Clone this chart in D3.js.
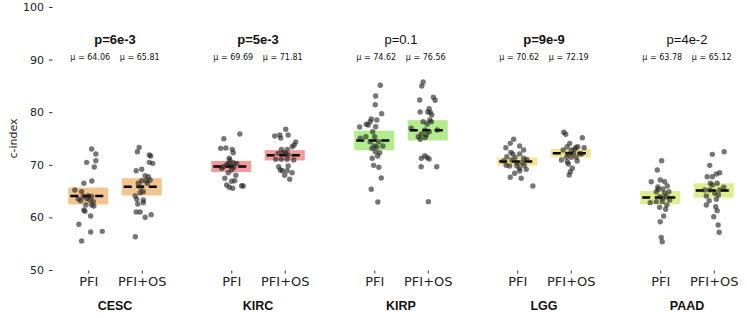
<!DOCTYPE html>
<html>
<head>
<meta charset="utf-8">
<script src="https://cdn.jsdelivr.net/npm/d3@7"></script>
<style>
  body { margin: 0; background: #fff; }
  svg { display: block; }
</style>
</head>
<body>
<svg id="chart"></svg>
<script>
// cancer types and the two label sets
const groups = ["CESC", "KIRC", "KIRP", "LGG", "PAAD"];
const methods = ["PFI", "PFI+OS"];
const pLabels = ["p=6e-3", "p=5e-3", "p=0.1", "p=9e-9", "p=4e-2"];
const pSignificant = [true, true, false, true, false];

// mean c-index and half height of the shaded box
const meansPFI = [64.06, 69.69, 74.62, 70.62, 63.78];
const meansPFIOS = [65.81, 71.81, 76.56, 72.19, 65.12];
const ciPFI = [1.6, 1.05, 1.87, 0.76, 1.24];
const ciPFIOS = [1.64, 0.98, 1.93, 0.79, 1.36];

const yTicks = [50, 60, 70, 80, 90, 100];

// single runs: [c-index, jitter (-1..1)]
const cescPFI = [[73.0,0.17],[72.05,0.38],[70.47,-0.08],[70.78,0.38],[69.58,0.3],[66.48,-0.22],[66.92,0.18],[65.21,-0.67],[63.5,-0.5],[63.17,-0.38],[63.97,-0.25],[64.13,0],[63.97,0.17],[63.3,0.08],[62.36,-0.12],[62.36,0.17],[62.17,0.28],[61.4,-0.22],[61.16,-0.17],[60.27,0.12],[58.69,-0.47],[57.22,0.12],[57.35,0.7],[55.51,-0.33],[63.6,-0.08],[63.0,0.25],[64.9,-0.33]];
const cescPFIOS = [[73.32,-0.13],[72.49,-0.22],[71.86,0.38],[71.67,0.45],[70.47,0.38],[70.28,0.55],[68.88,-0.28],[69.14,0],[67.93,0.17],[67.74,0.33],[66.98,0],[66.98,0.22],[66.48,-0.17],[67.1,0.42],[64.89,0.08],[64.7,-0.08],[64.07,-0.33],[63.44,-0.25],[63.3,0.08],[62.55,-0.2],[62.8,0.08],[61.03,-0.28],[61.03,-0.08],[60.02,0.17],[60.52,0.47],[56.33,-0.32],[66.48,0.28],[65.72,-0.05]];
const kircPFI = [[75.86,0.43],[74.96,-0.37],[73.13,-0.53],[73.19,-0.27],[72.94,0.05],[72.3,0.1],[71.24,-0.1],[70.4,0.1],[70.28,-0.15],[69.64,-0.4],[69.77,-0.03],[69.52,0.13],[69.33,-0.48],[69.01,0.02],[68.5,-0.15],[68.0,0.23],[67.43,-0.32],[66.86,0.02],[66.98,0.18],[66.16,-0.23],[65.72,-0.1],[65.53,0.07],[66.03,0.52],[65.97,0.6],[70.91,-0.07],[69.96,-0.23],[70.28,0.27]];
const kircPFIOS = [[76.75,0.05],[75.48,-0.5],[75.67,-0.25],[75.67,0.17],[75.1,-0.2],[74.33,0.55],[73.76,0.47],[73.44,0.37],[72.94,-0.17],[72.94,0.12],[72.3,-0.08],[72.18,0.05],[72.18,-0.33],[71.86,0.17],[71.04,-0.45],[71.04,-0.17],[71.04,0.12],[70.91,0.45],[69.64,-0.3],[69.01,-0.22],[69.77,0.17],[68.88,-0.12],[68.88,0.12],[68.5,0.37],[68.0,0],[67.24,0.25]];
const kirpPFI = [[85.11,0.3],[83.08,0.07],[81.43,0.05],[79.72,0.37],[78.71,-0.15],[78.52,0.13],[78.2,-0.2],[77.7,-0.4],[77.19,-0.73],[77.57,-0.3],[77.24,0.07],[76.29,-0.08],[75.34,-0.42],[75.34,0.02],[75.04,-0.7],[74.39,-0.2],[74.39,0.22],[73.13,-0.12],[73.57,0],[73.38,0.13],[73.57,0.43],[72.49,0.05],[72.3,0.27],[71.67,0.17],[71.24,-0.1],[69.9,-0.03],[69.52,0.23],[67.49,0.35],[65.34,-0.15],[62.93,0.18]];
const kirpPFIOS = [[85.74,-0.23],[84.98,-0.3],[82.83,0.28],[82.26,0.37],[82.32,-0.4],[80.67,0.07],[80.04,-0.38],[80.04,0],[79.97,0.13],[78.2,-0.23],[78.2,0.18],[77.76,-0.03],[76.94,-0.83],[76.62,0.48],[76.62,-0.13],[76.29,0.07],[75.86,-0.32],[75.67,-0.07],[75.34,-0.47],[74.85,-0.37],[75.2,-0.13],[71.73,-0.15],[71.24,-0.32],[71.4,-0.03],[71.1,0.07],[69.64,-0.33],[69.64,0.45],[62.99,0.03],[78.52,0.1],[79.47,0.2]];
const lggPFI = [[74.85,-0.18],[74.08,-0.35],[73.25,-0.57],[73.57,0.12],[72.81,0.32],[72.37,-0.32],[72.05,-0.22],[72.05,0.12],[71.54,-0.52],[71.42,-0.1],[71.24,0.32],[70.72,-0.68],[70.91,-0.27],[70.4,-0.02],[70.4,0.23],[69.9,-0.55],[69.77,-0.38],[69.77,-0.02],[69.9,0.35],[69.33,0.12],[69.14,0.45],[68.82,0.12],[68.38,-0.13],[67.62,-0.35],[67.43,0.2],[65.97,0.78],[71.04,0.48]];
const lggPFIOS = [[76.18,-0.35],[75.8,-0.25],[75.15,0.58],[74.08,-0.05],[73.44,-0.18],[73.32,0.25],[73.44,0.35],[73.25,0.67],[72.81,-0.38],[72.81,0.03],[72.18,0.15],[72.05,-0.12],[72.18,0.45],[71.42,-0.22],[71.42,0.28],[70.91,-0.47],[71.42,0.03],[70.59,-0.17],[70.15,-0.12],[70.72,0.32],[69.33,0.08],[68.69,-0.02],[68.06,-0.08],[72.05,0.53],[72.94,0.2]];
const paadPFI = [[70.78,0.07],[69.01,-0.15],[66.79,-0.45],[67.11,0],[66.79,0.22],[65.97,0.35],[65.78,-0.12],[65.4,0.13],[64.89,0.43],[64.89,-0.2],[64.58,0.22],[63.94,-0.03],[63.63,0.13],[62.99,-0.2],[62.8,-0.5],[62.99,0.1],[62.36,0.33],[61.92,-0.03],[61.54,0.27],[60.27,0.17],[59.18,0],[56.21,0.05],[55.38,0.1],[63.94,0.3],[65.34,-0.1],[63.3,0.47]];
const paadPFIOS = [[72.49,0.52],[71.99,-0.07],[69.9,-0.2],[68.5,0.3],[68.25,0.13],[67.74,-0.33],[67.74,-0.07],[66.48,-0.17],[66.48,0.17],[65.21,-0.45],[65.21,-0.2],[65.21,0.3],[65.72,0.5],[64.58,0.05],[64.07,-0.37],[64.26,0.23],[63.17,-0.23],[63.44,0.13],[62.36,-0.37],[62.03,0.1],[61.28,0.17],[60.13,0],[58.56,0.22],[57.17,0.27],[66.16,-0.07]];

const pointsPFI = [cescPFI, kircPFI, kirpPFI, lggPFI, paadPFI];
const pointsPFIOS = [cescPFIOS, kircPFIOS, kirpPFIOS, lggPFIOS, paadPFIOS];

const width = 747, height = 318;
const boxColors = ["#f2c48e", "#f29b98", "#b3eb8f", "#f2e491", "#dcee8f"];
const boxW = 40;

const svg = d3.select("#chart")
    .attr("width", width)
    .attr("height", height);

const y = d3.scaleLinear().domain([50, 100]).range([270, 7]);
const xGroup = d3.scalePoint().domain(groups).range([115, 687]);
const xMethod = d3.scalePoint().domain(methods).range([-26.75, 26.75]);
const jitter = d3.scaleLinear().domain([-1, 1]).range([-boxW / 2, boxW / 2]);
const color = d3.scaleOrdinal().domain(groups).range(boxColors);

// y axis, ticks only
const yAxis = svg.append("g")
    .attr("transform", "translate(52.5,0)")
    .call(d3.axisLeft(y).tickValues(yTicks).tickSize(3.5).tickPadding(5));
yAxis.select(".domain").remove();
yAxis.selectAll("text")
    .attr("font-family", "DejaVu Sans")
    .attr("font-size", 11)
    .attr("fill", "#222");
yAxis.selectAll("line").attr("stroke", "#333");

svg.append("text")
    .attr("transform", "translate(16.5,138.5) rotate(-90)")
    .attr("text-anchor", "middle")
    .attr("font-family", "DejaVu Sans")
    .attr("font-size", 11)
    .attr("fill", "#222")
    .text("c-index");

groups.forEach((g, i) => {
    const gx = xGroup(g);
    const series = [
        { m: "PFI", mean: meansPFI[i], ci: ciPFI[i], pts: pointsPFI[i] },
        { m: "PFI+OS", mean: meansPFIOS[i], ci: ciPFIOS[i], pts: pointsPFIOS[i] }
    ];

    // x axis for this group
    const xAxis = svg.append("g")
        .attr("transform", `translate(${gx},270.5)`)
        .call(d3.axisBottom(xMethod).tickSize(3).tickPadding(3));
    xAxis.select(".domain").remove();
    xAxis.selectAll("line").attr("stroke", "#333");
    xAxis.selectAll("text")
        .attr("font-family", "DejaVu Sans")
        .attr("font-size", 13)
        .attr("fill", "#222");

    svg.append("text")
        .attr("x", gx)
        .attr("y", 310)
        .attr("text-anchor", "middle")
        .attr("font-family", "Liberation Sans")
        .attr("font-weight", "bold")
        .attr("font-size", 12.5)
        .attr("fill", "#111")
        .text(g);

    svg.append("text")
        .attr("x", gx)
        .attr("y", 44)
        .attr("text-anchor", "middle")
        .attr("font-family", "Liberation Sans")
        .attr("font-weight", pSignificant[i] ? "bold" : "normal")
        .attr("font-size", 13)
        .attr("fill", "#111")
        .text(pLabels[i]);

    series.forEach((s, j) => {
        const cx = gx + xMethod(s.m);

        svg.append("text")
            .attr("x", cx + (j === 0 ? 2 : -2))
            .attr("y", 60)
            .attr("text-anchor", "middle")
            .attr("font-family", "DejaVu Sans")
            .attr("font-size", 8)
            .attr("fill", "#111")
            .text("\u03bc = " + s.mean.toFixed(2));

        svg.append("rect")
            .attr("x", cx - boxW / 2)
            .attr("y", y(s.mean + s.ci))
            .attr("width", boxW)
            .attr("height", y(s.mean - s.ci) - y(s.mean + s.ci))
            .attr("fill", color(g));

        svg.append("line")
            .attr("x1", cx - 18)
            .attr("x2", cx + 18)
            .attr("y1", y(s.mean))
            .attr("y2", y(s.mean))
            .attr("stroke", "#000")
            .attr("stroke-width", 2.5)
            .attr("stroke-dasharray", "8,4.5");

        svg.append("g")
            .selectAll("circle")
            .data(s.pts)
            .enter()
            .append("circle")
            .attr("cx", d => cx + jitter(d[1]))
            .attr("cy", d => y(d[0]))
            .attr("r", 2.7)
            .attr("fill", "#222")
            .attr("fill-opacity", 0.62);
    });
});
</script>
</body>
</html>
